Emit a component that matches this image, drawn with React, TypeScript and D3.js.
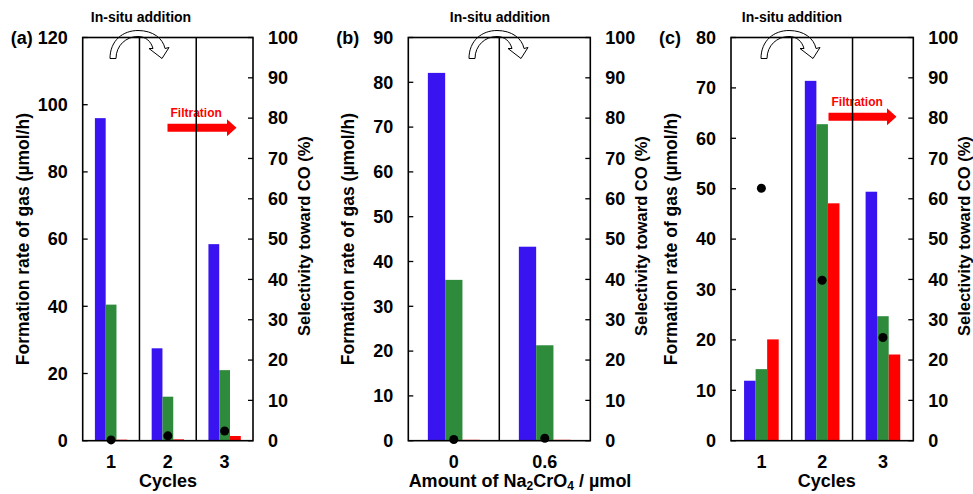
import React from 'react';
import * as d3 from 'd3';

// panel (a)
const catsA = ['1', '2', '3'];
const blueA = [96, 27.5, 58.5];
const greenA = [40.5, 13.1, 21];
const redA = [0.3, 0.4, 1.4];
const selA = [0.2, 1.2, 2.4];

// panel (b)
const catsB = ['0', '0.6'];
const blueB = [82.1, 43.3];
const greenB = [35.9, 21.3];
const redB = [0.2, 0.2];
const selB = [0.3, 0.6];

// panel (c)
const catsC = ['1', '2', '3'];
const blueC = [11.9, 71.4, 49.4];
const greenC = [14.2, 62.8, 24.7];
const redC = [20.1, 47.1, 17.1];
const selC = [62.6, 39.8, 25.6];

const selTicks = d3.range(0, 101, 10);

const FONT = '"Liberation Sans", Arial, sans-serif';
const BLUE = '#3A14F0';
const GREEN = '#2E8B3C';
const RED = '#FF0000';

const TOP = 37.5;
const BOTTOM = 440.7;

type PanelProps = {
  tag: string;
  left: number;
  right: number;
  cats: string[];
  blue: number[];
  green: number[];
  red: number[];
  sel: number[];
  yMax: number;
  yStep: number;
  xLabel: React.ReactNode;
  xLabelX: number;
  arrowX: number;
  filtration?: { x0: number; x1: number; yc: number };
};

// hollow curved "in-situ addition" arrow, local coords from tail bottom-left
const curvedArrow =
  'M0 0 L6 0 C6 -13 16 -22 28 -22 C36 -22 41 -17 43 -10 L39 -10 L52 0 L59 -11 L55 -10 ' +
  'C53 -20 43 -28 28 -28 C13 -28 0 -18 0 0 Z';

const Panel = ({ tag, left, right, cats, blue, green, red, sel, yMax, yStep, xLabel, xLabelX, arrowX, filtration }: PanelProps) => {
  const x = d3.scaleBand<string>().domain(cats).range([left, right]);
  const y = d3.scaleLinear().domain([0, yMax]).range([BOTTOM, TOP]);
  const y2 = d3.scaleLinear().domain([0, 100]).range([BOTTOM, TOP]);
  const bw = x.bandwidth();
  const inner = d3.scaleBand<string>().domain(['blue', 'green', 'red']).range([-0.285 * bw, 0.285 * bw]);
  const series = [
    { key: 'blue', vals: blue, color: BLUE },
    { key: 'green', vals: green, color: GREEN },
    { key: 'red', vals: red, color: RED },
  ];
  const yTicks = d3.range(0, yMax + 0.001, yStep);
  const midY = (TOP + BOTTOM) / 2;

  return (
    <g fontFamily={FONT} fontWeight="bold">
      {/* bars */}
      {series.map(s =>
        cats.map((c, i) => (
          <rect
            key={s.key + c}
            x={x(c)! + bw / 2 + inner(s.key)!}
            y={y(s.vals[i])}
            width={inner.bandwidth()}
            height={BOTTOM - y(s.vals[i])}
            fill={s.color}
          />
        ))
      )}

      {/* filtration arrow */}
      {filtration && (
        <g>
          <polygon
            fill={RED}
            points={[
              [filtration.x0, filtration.yc - 4],
              [filtration.x1, filtration.yc - 4],
              [filtration.x1, filtration.yc - 8.5],
              [filtration.x1 + 9.5, filtration.yc],
              [filtration.x1, filtration.yc + 8.5],
              [filtration.x1, filtration.yc + 4],
              [filtration.x0, filtration.yc + 4],
            ].map(p => p.join(',')).join(' ')}
          />
          <text x={filtration.x0 + 3} y={filtration.yc - 10.5} fontSize={12} fill={RED}>Filtration</text>
        </g>
      )}

      {/* dividers */}
      {cats.slice(1).map(c => (
        <line key={'d' + c} x1={x(c)} x2={x(c)} y1={TOP} y2={BOTTOM} stroke="#000" strokeWidth={1.5} />
      ))}

      {/* frame */}
      <rect x={left} y={TOP} width={right - left} height={BOTTOM - TOP} fill="none" stroke="#000" strokeWidth={1.6} />

      {/* left axis */}
      {yTicks.map(t => (
        <g key={'l' + t}>
          <line x1={left} x2={left + 5} y1={y(t)} y2={y(t)} stroke="#000" strokeWidth={1.3} />
          <text x={left - 15} y={y(t)} dy="0.35em" textAnchor="end" fontSize={18}>{t}</text>
        </g>
      ))}

      {/* right axis */}
      {selTicks.map(t => (
        <g key={'r' + t}>
          <line x1={right - 5} x2={right} y1={y2(t)} y2={y2(t)} stroke="#000" strokeWidth={1.3} />
          <text x={right + 15} y={y2(t)} dy="0.35em" textAnchor="start" fontSize={18}>{t}</text>
        </g>
      ))}

      {/* selectivity dots */}
      {cats.map((c, i) => (
        <circle key={'s' + c} cx={x(c)! + bw / 2} cy={y2(sel[i])} r={4.5} fill="#000" />
      ))}

      {/* category labels */}
      {cats.map(c => (
        <text key={'c' + c} x={x(c)! + bw / 2} y={BOTTOM + 27} textAnchor="middle" fontSize={18}>{c}</text>
      ))}

      <text x={xLabelX} y={BOTTOM + 46} textAnchor="middle" fontSize={18}>{xLabel}</text>

      <text transform={`translate(${left - 60},${midY}) rotate(-90)`} textAnchor="middle" fontSize={17.5} dy="0.35em">
        Formation rate of gas (µmol/h)
      </text>
      <text transform={`translate(${right + 51},${midY - 3}) rotate(-90)`} textAnchor="middle" fontSize={16.5} dy="0.35em">
        Selectivity toward CO (%)
      </text>

      <text x={left - 72} y={TOP} dy="0.35em" fontSize={18}>{tag}</text>

      {/* in-situ addition */}
      <text x={arrowX + 31} y={22} textAnchor="middle" fontSize={14}>In-situ addition</text>
      <path d={curvedArrow} transform={`translate(${arrowX},58.5)`} fill="none" stroke="#000" strokeWidth={1} />
    </g>
  );
};

export default function App() {
  return (
    <svg width={973} height={494} style={{ position: 'absolute', left: 0, top: 0, background: '#fff' }}>
      <Panel
        tag="(a)"
        left={82.7}
        right={253}
        cats={catsA}
        blue={blueA}
        green={greenA}
        red={redA}
        sel={selA}
        yMax={120}
        yStep={20}
        xLabel="Cycles"
        xLabelX={168}
        arrowX={110}
        filtration={{ x0: 167.5, x1: 227, yc: 127.8 }}
      />
      <Panel
        tag="(b)"
        left={408.3}
        right={590.3}
        cats={catsB}
        blue={blueB}
        green={greenB}
        red={redB}
        sel={selB}
        yMax={90}
        yStep={10}
        xLabel={
          <>
            <tspan>Amount of Na</tspan>
            <tspan dy={3.5} fontSize={12}>2</tspan>
            <tspan dy={-3.5}>CrO</tspan>
            <tspan dy={3.5} fontSize={12}>4</tspan>
            <tspan dy={-3.5}> / µmol</tspan>
          </>
        }
        xLabelX={520}
        arrowX={469}
      />
      <Panel
        tag="(c)"
        left={731}
        right={913.3}
        cats={catsC}
        blue={blueC}
        green={greenC}
        red={redC}
        sel={selC}
        yMax={80}
        yStep={10}
        xLabel="Cycles"
        xLabelX={826.7}
        arrowX={761}
        filtration={{ x0: 828.5, x1: 887, yc: 116.7 }}
      />
    </svg>
  );
}
